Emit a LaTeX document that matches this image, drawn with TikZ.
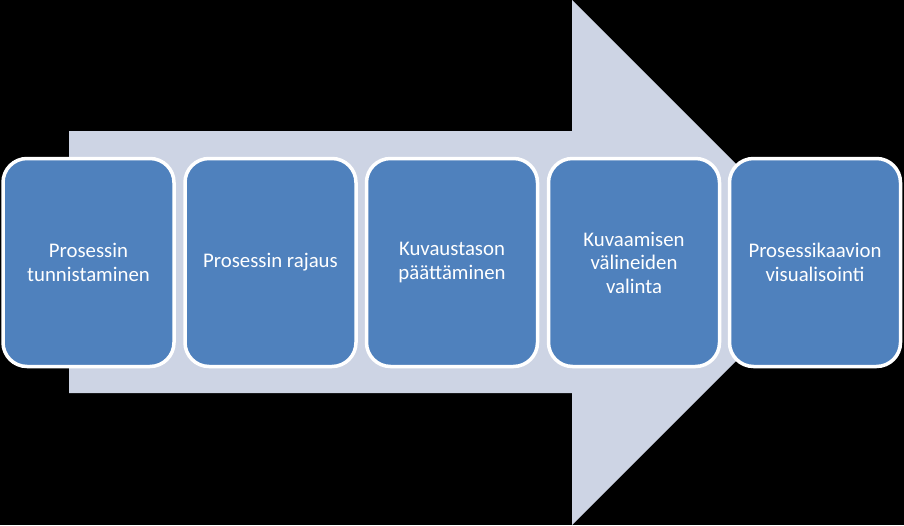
\documentclass[tikz,border=0pt]{standalone}
\usepackage{fontspec}
\setmainfont{Carlito}
\definecolor{bgarrow}{HTML}{CDD4E4}
\definecolor{boxblue}{HTML}{4F81BD}
\begin{document}
\begin{tikzpicture}[x=1pt,y=-1pt,
  stepbox/.style={draw=white, line width=3.5pt, fill=boxblue, rounded corners=24pt,
    minimum width=171pt, minimum height=208pt, inner sep=0pt,
    text=white, align=center, font=\fontsize{20.8}{23.5}\selectfont}]
\fill[black] (0,0) rectangle (904,525);
\useasboundingbox (0,0) rectangle (904,525);
\fill[bgarrow] (69,131) -- (572,131) -- (572,0) -- (834.5,262.5) -- (572,525) -- (572,393) -- (69,393) -- cycle;
\node[stepbox] (b1) at (88.5,262.5) {Prosessin\\tunnistaminen};
\node[stepbox] (b2) at (270.5,262.5) {Prosessin rajaus};
\node[stepbox] (b3) at (452,262.5) {Kuvaustason\\päättäminen};
\node[stepbox] (b4) at (634,262.5) {Kuvaamisen\\välineiden\\valinta};
\node[stepbox] (b5) at (815,262.5) {Prosessikaavion\\visualisointi};
\end{tikzpicture}
\end{document}
